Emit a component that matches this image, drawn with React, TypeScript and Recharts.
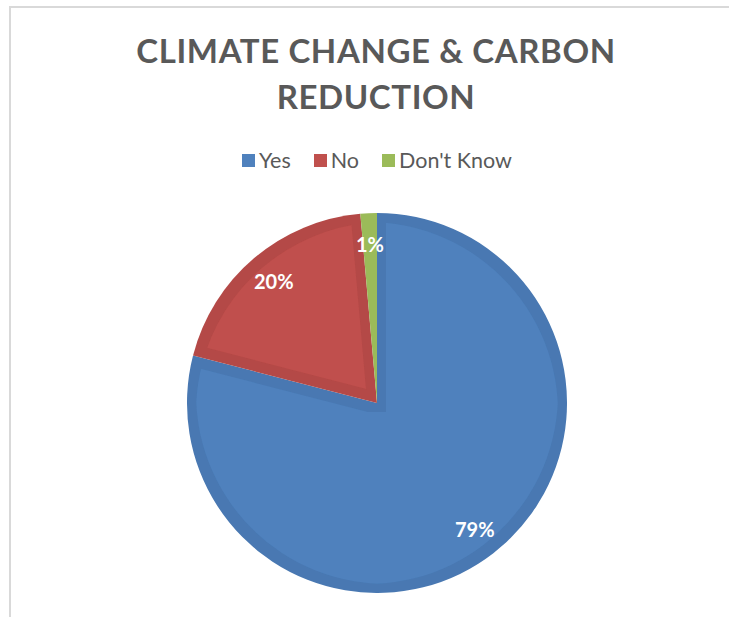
import { PieChart, Pie, Cell, Legend } from "recharts";

const categories = ["Yes", "No", "Don't Know"];
const counts = [113, 28, 2];
const colors = ["#4F81BD", "#C0504D", "#9BBB59"];
const titleLines = ["CLIMATE CHANGE & CARBON", "REDUCTION"];

const data = categories.map((name, i) => ({ name, value: counts[i] }));

const RADIAN = Math.PI / 180;

const renderLabel = ({ cx, cy, midAngle, outerRadius, percent }: any) => {
  const r = outerRadius * 0.84;
  const x = cx + r * Math.cos(-midAngle * RADIAN);
  const y = cy + r * Math.sin(-midAngle * RADIAN);
  return (
    <text
      x={x}
      y={y}
      fill="#FFFFFF"
      textAnchor="middle"
      dominantBaseline="central"
      style={{ fontFamily: "Lato", fontWeight: 700, fontSize: 20 }}
    >
      {Math.round(percent * 100)}%
    </text>
  );
};

// legend keeps the data order (recharts sorts by name otherwise)
const LegendContent = ({ payload }: any) => {
  const items = [...(payload || [])].sort(
    (a: any, b: any) => categories.indexOf(a.value) - categories.indexOf(b.value)
  );
  return (
    <div style={{ display: "flex", justifyContent: "center", gap: 23, fontFamily: "Lato", fontSize: 21.5, color: "#595959" }}>
      {items.map((p: any) => (
        <div key={p.value} style={{ display: "flex", alignItems: "center" }}>
          <span style={{ display: "inline-block", width: 13, height: 13, background: p.color, marginRight: 4 }} />
          <span>{p.value}</span>
        </div>
      ))}
    </div>
  );
};

export default function App() {
  return (
    <div style={{ position: "absolute", left: 0, top: 0, width: 729, height: 617, background: "#fff", overflow: "hidden" }}>
      <div
        style={{
          position: "absolute",
          left: 9,
          top: 6,
          width: 740,
          height: 640,
          borderTop: "2px solid #D9D9D9",
          borderLeft: "2px solid #D9D9D9",
        }}
      />
      <div
        style={{
          position: "absolute",
          left: 0,
          top: 27,
          width: 752,
          textAlign: "center",
          fontFamily: "Lato",
          fontWeight: 700,
          fontSize: 33,
          lineHeight: "46px",
          color: "#595959",
          letterSpacing: 0.6,
        }}
      >
        {titleLines.map((l) => (
          <div key={l}>{l}</div>
        ))}
      </div>
      <PieChart width={729} height={617} margin={{ top: 0, right: 0, bottom: 0, left: 0 }}>
        <defs>
          <filter id="innerEdge" x="-5%" y="-5%" width="110%" height="110%">
            <feMorphology in="SourceGraphic" operator="erode" radius="9" result="inner" />
            <feComponentTransfer in="SourceGraphic" result="dark">
              <feFuncR type="linear" slope="0.87" />
              <feFuncG type="linear" slope="0.87" />
              <feFuncB type="linear" slope="0.87" />
            </feComponentTransfer>
            <feMerge>
              <feMergeNode in="dark" />
              <feMergeNode in="inner" />
            </feMerge>
          </filter>
        </defs>
        <Legend
          verticalAlign="middle"
          content={<LegendContent />}
          wrapperStyle={{ top: 147, left: 0, width: 754 }}
        />
        <Pie
          data={data}
          dataKey="value"
          nameKey="name"
          cx={377}
          cy={403}
          outerRadius={190}
          startAngle={90}
          endAngle={-270}
          stroke="none"
          label={renderLabel}
          labelLine={false}
          isAnimationActive={false}
        >
          {data.map((d, i) => (
            <Cell key={d.name} fill={colors[i]} filter={i < 2 ? "url(#innerEdge)" : undefined} />
          ))}
        </Pie>
      </PieChart>
    </div>
  );
}
